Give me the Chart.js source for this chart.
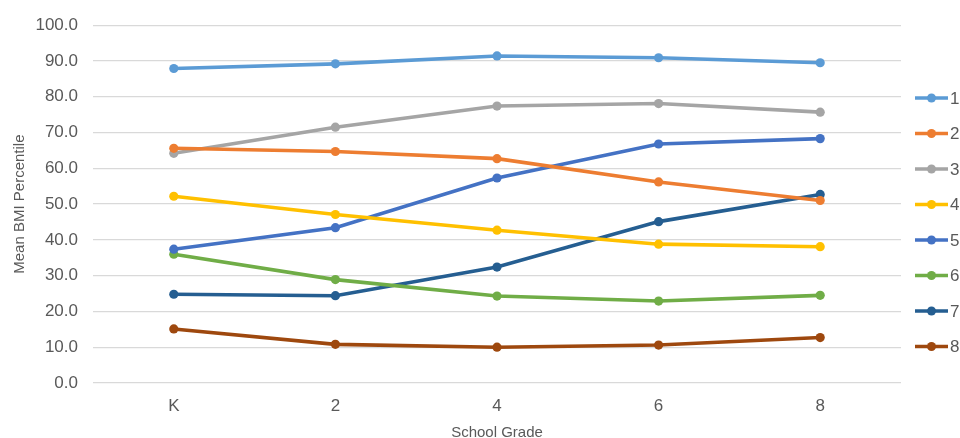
<!DOCTYPE html>
<html>
<head>
<meta charset="utf-8">
<script src="https://cdn.jsdelivr.net/npm/chart.js@4/dist/chart.umd.min.js"></script>
<style>
  html, body { margin: 0; padding: 0; background: #fff; }
  #wrap { width: 960px; height: 438px; position: relative; }
</style>
</head>
<body>
<div id="wrap"><canvas id="c" width="960" height="438"></canvas></div>
<script>
// School grades on the x axis
const grades = ['K', '2', '4', '6', '8'];

// Mean BMI percentile per group, one array per series
const series1 = [87.9, 89.2, 91.4, 90.9, 89.5];
const series2 = [65.6, 64.7, 62.7, 56.2, 51.0];
const series3 = [64.2, 71.5, 77.4, 78.1, 75.7];
const series4 = [52.2, 47.1, 42.7, 38.8, 38.1];
const series5 = [37.4, 43.4, 57.3, 66.8, 68.3];
const series6 = [36.0, 28.9, 24.3, 22.9, 24.5];
const series7 = [24.8, 24.4, 32.4, 45.1, 52.7];
const series8 = [15.1, 10.8, 10.0, 10.6, 12.7];

const seriesNames = ['1', '2', '3', '4', '5', '6', '7', '8'];
const seriesValues = [series1, series2, series3, series4, series5, series6, series7, series8];
const seriesColors = ['#5B9BD5', '#ED7D31', '#A5A5A5', '#FFC000', '#4472C4', '#70AD47', '#255E91', '#9E480E'];

const FONT = "'Liberation Sans', Arial, sans-serif";
const TEXT = '#595959';

// Right-hand legend: line segment with a marker, then the series name
const sideLegend = {
  id: 'sideLegend',
  afterDraw(chart) {
    const ctx = chart.ctx;
    ctx.save();
    const x0 = 915, x1 = 948, y0 = 98, step = 35.5;
    chart.data.datasets.forEach((ds, i) => {
      const y = y0 + i * step;
      ctx.strokeStyle = ds.borderColor;
      ctx.lineWidth = 3.5;
      ctx.beginPath();
      ctx.moveTo(x0, y);
      ctx.lineTo(x1, y);
      ctx.stroke();
      ctx.fillStyle = ds.borderColor;
      ctx.beginPath();
      ctx.arc((x0 + x1) / 2, y, 4.5, 0, Math.PI * 2);
      ctx.fill();
      ctx.fillStyle = TEXT;
      ctx.font = '17px ' + FONT;
      ctx.textAlign = 'left';
      ctx.textBaseline = 'middle';
      ctx.fillText(ds.label, x1 + 2, y + 1);
    });
    ctx.restore();
  }
};

new Chart(document.getElementById('c'), {
  type: 'line',
  data: {
    labels: grades,
    datasets: seriesValues.map((vals, i) => ({
      label: seriesNames[i],
      data: vals,
      borderColor: seriesColors[i],
      backgroundColor: seriesColors[i],
      borderWidth: 3.6,
      pointRadius: 4.6,
      pointHoverRadius: 4.6,
      pointBorderWidth: 0,
      tension: 0,
      fill: false
    }))
  },
  options: {
    responsive: false,
    animation: false,
    devicePixelRatio: 1,
    layout: { padding: { left: 0, right: 59, top: 12, bottom: 0 } },
    plugins: {
      legend: { display: false },
      tooltip: { enabled: false }
    },
    scales: {
      x: {
        offset: true,
        grid: { display: false, drawTicks: false },
        border: { display: false },
        ticks: { color: TEXT, font: { family: FONT, size: 17 }, padding: 13 },
        title: { display: true, text: 'School Grade', color: TEXT, font: { family: FONT, size: 15 }, padding: { top: 2, bottom: -4 } },
        afterFit(scale) { scale.height = 55; }
      },
      y: {
        min: 0,
        max: 100,
        ticks: {
          stepSize: 10,
          color: TEXT,
          font: { family: FONT, size: 17 },
          padding: 15,
          callback: v => Number(v).toFixed(1)
        },
        grid: { color: '#D9D9D9', lineWidth: 1.3, drawTicks: false },
        border: { display: false },
        title: { display: true, text: 'Mean BMI Percentile', color: TEXT, font: { family: FONT, size: 15 }, padding: { top: 11, bottom: 0 } },
        afterFit(scale) { scale.width = 93; }
      }
    }
  },
  plugins: [sideLegend]
});
</script>
</body>
</html>
